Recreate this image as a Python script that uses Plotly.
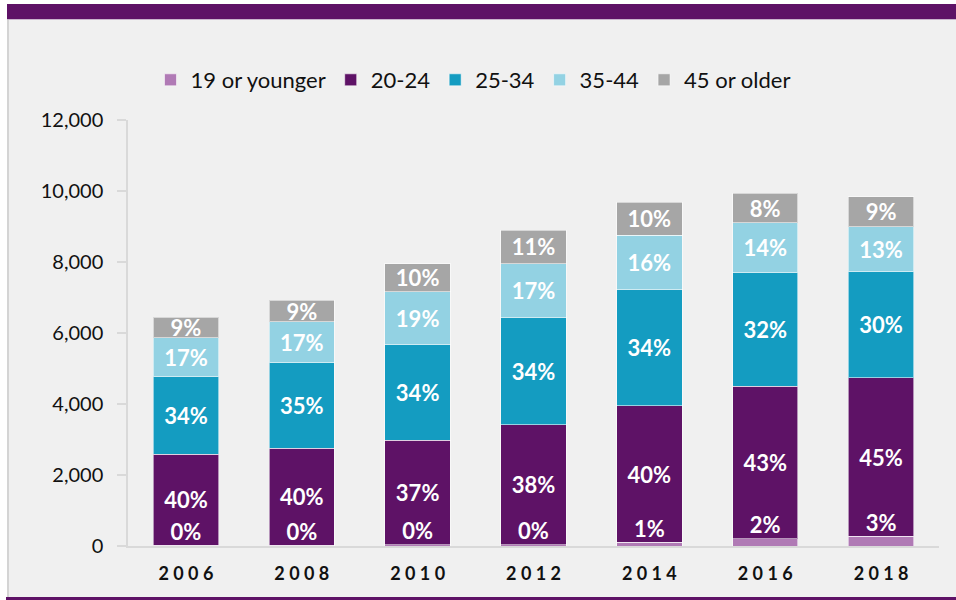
import plotly.graph_objects as go

years = ["2006", "2008", "2010", "2012", "2014", "2016", "2018"]
year_labels = ["2 0 0 6", "2 0 0 8", "2 0 1 0", "2 0 1 2", "2 0 1 4", "2 0 1 6", "2 0 1 8"]
age_groups = ["19 or younger", "20-24", "25-34", "35-44", "45 or older"]

age_19_or_younger = [20, 20, 30, 40, 100, 200, 270]
age_20_24 = [2560, 2740, 2950, 3380, 3850, 4300, 4470]
age_25_34 = [2190, 2400, 2700, 3010, 3270, 3200, 2990]
age_35_44 = [1090, 1150, 1480, 1520, 1530, 1400, 1260]
age_45_or_older = [580, 610, 790, 950, 930, 840, 850]

y_ticks = [0, 2000, 4000, 6000, 8000, 10000, 12000]

series = [age_19_or_younger, age_20_24, age_25_34, age_35_44, age_45_or_older]
colors = ["#b07ab5", "#5e1266", "#149cc1", "#93d2e3", "#a6a6a6"]

totals = [sum(s[i] for s in series) for i in range(len(years))]

W, H = 956, 600
ML, MR, MT, MB = 128, 17, 120, 54
PW, PH = W - ML - MR, H - MT - MB


def px_x(px):
    return (px - ML) / PW


def px_y(py):
    return (H - MB - py) / PH


FONT = "Lato, 'Open Sans', sans-serif"

fig = go.Figure()
for name, vals, col in zip(age_groups, series, colors):
    pct = [f"{round(v / t * 100)}%" for v, t in zip(vals, totals)]
    is_young = name == "19 or younger"
    fig.add_trace(go.Bar(
        name=name,
        x=years,
        y=vals,
        marker=dict(color=col, line=dict(color="rgba(255,255,255,0.55)", width=1)),
        text=None if is_young else pct,
        textposition="none" if is_young else "inside",
        insidetextanchor="middle",
        textangle=0,
        textfont=dict(family=FONT, size=22, color="white", weight="bold"),
        hoverinfo="skip",
    ))

# labels for the thin bottom segment
young_pct = [f"{round(v / t * 100)}%" for v, t in zip(age_19_or_younger, totals)]
fig.add_trace(go.Scatter(
    x=years,
    y=age_19_or_younger,
    mode="text",
    text=young_pct,
    textposition="top center",
    textfont=dict(family=FONT, size=22, color="white", weight="bold"),
    showlegend=False,
    hoverinfo="skip",
    cliponaxis=True,
))

shapes = [
    # white margins
    dict(type="rect", xref="paper", yref="paper", x0=px_x(0), x1=px_x(W), y0=px_y(0), y1=px_y(4),
         fillcolor="white", line=dict(width=0), layer="below"),
    dict(type="rect", xref="paper", yref="paper", x0=px_x(0), x1=px_x(7), y0=px_y(0), y1=px_y(H),
         fillcolor="white", line=dict(width=0), layer="below"),
    # top purple band
    dict(type="rect", xref="paper", yref="paper", x0=px_x(7), x1=px_x(W), y0=px_y(4), y1=px_y(19),
         fillcolor="#5e1266", line=dict(width=0), layer="below"),
    dict(type="rect", xref="paper", yref="paper", x0=px_x(7), x1=px_x(W), y0=px_y(19), y1=px_y(20),
         fillcolor="#c9b3cc", line=dict(width=0), layer="below"),
    # left border line
    dict(type="rect", xref="paper", yref="paper", x0=px_x(7), x1=px_x(9), y0=px_y(20), y1=px_y(597),
         fillcolor="#d4d4d4", line=dict(width=0), layer="below"),
    # bottom purple band
    dict(type="rect", xref="paper", yref="paper", x0=px_x(6), x1=px_x(W), y0=px_y(597), y1=px_y(H),
         fillcolor="#5e1266", line=dict(width=0), layer="below"),
]

fig.update_layout(
    width=W, height=H, autosize=False,
    margin=dict(l=ML, r=MR, t=MT, b=MB, pad=0),
    paper_bgcolor="#f0f0f0",
    plot_bgcolor="#f0f0f0",
    barmode="stack",
    bargap=0.436,
    font=dict(family=FONT, size=20, color="#111111"),
    uniformtext=dict(minsize=22, mode="show"),
    showlegend=True,
    legend=dict(
        orientation="h",
        x=px_x(473), xanchor="center",
        y=px_y(80), yanchor="middle",
        font=dict(family=FONT, size=22, color="#111111"),
        traceorder="normal",
        itemwidth=30,
        bgcolor="rgba(0,0,0,0)",
    ),
    shapes=shapes,
)

fig.update_xaxes(
    type="category",
    tickvals=years,
    ticktext=year_labels,
    showline=True, linecolor="#d9d9d9", linewidth=2,
    ticks="", showgrid=False, zeroline=False,
    tickfont=dict(family=FONT, size=18, color="#111111", weight="bold"),
    ticklabelstandoff=10,
)
fig.update_yaxes(
    range=[0, 12000],
    tickvals=y_ticks,
    tickformat=",",
    showline=True, linecolor="#d9d9d9", linewidth=1.5,
    ticks="outside", ticklen=9, tickcolor="#d9d9d9", tickwidth=1.5,
    showgrid=False, zeroline=False,
    tickfont=dict(family=FONT, size=20, color="#111111"),
    ticklabelstandoff=10,
)

fig.write_html(
    "out.html",
    config={"displayModeBar": False},
    post_script="document.body.style.margin='0';document.body.style.overflow='hidden';",
)
